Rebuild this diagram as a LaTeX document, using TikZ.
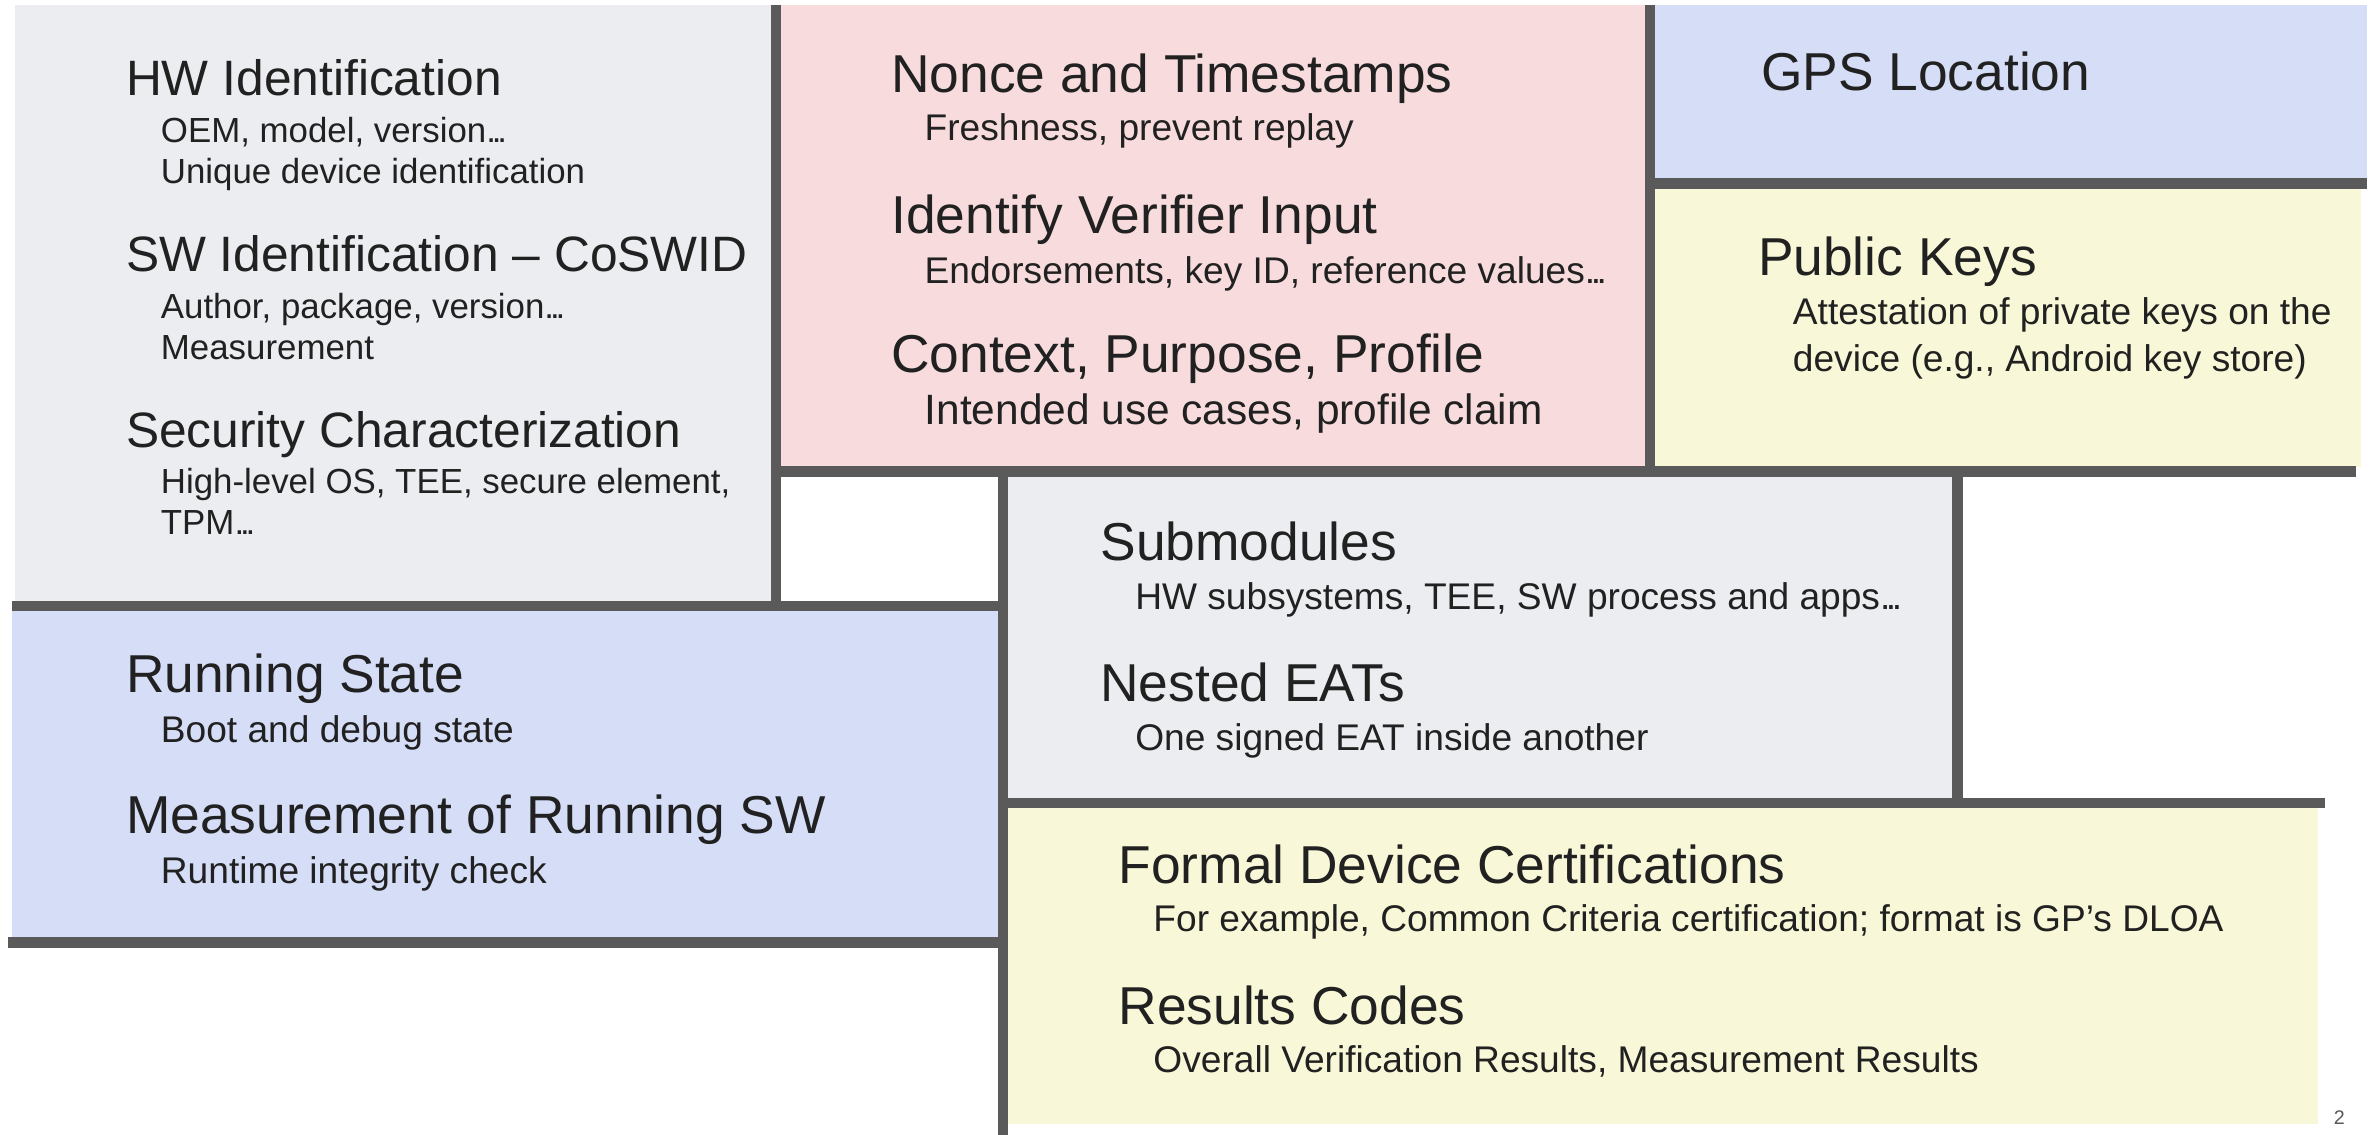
\documentclass[tikz,border=0pt]{standalone}
\usepackage{fontspec}
\setmainfont{Liberation Sans}
\definecolor{boxgray}{HTML}{ECEDF1}
\definecolor{boxpink}{HTML}{F8DCDD}
\definecolor{boxblue}{HTML}{D5DDF7}
\definecolor{boxyellow}{HTML}{F8F8D8}
\definecolor{rulecol}{HTML}{5A5A5A}
\definecolor{txt}{HTML}{212121}
\newcommand{\tightdots}{.\kern-0.12em.\kern-0.12em.}
\begin{document}
\begin{tikzpicture}[x=1pt,y=-1pt,
  ttl/.style={anchor=base west, inner sep=0pt, text=txt, font=\fontsize{35.2}{40}\selectfont},
  ttla/.style={anchor=base west, inner sep=0pt, text=txt, font=\fontsize{32.8}{40}\selectfont},
  sub/.style={anchor=base west, inner sep=0pt, text=txt, font=\fontsize{24.5}{28}\selectfont},
  suba/.style={anchor=base west, inner sep=0pt, text=txt, font=\fontsize{23}{28}\selectfont},
  subb/.style={anchor=base west, inner sep=0pt, text=txt, font=\fontsize{28}{32}\selectfont},
  rulel/.style={draw=rulecol, line width=7pt, line cap=butt}]
\useasboundingbox (0,0) rectangle (1568,749);
% boxes
\fill[boxgray]   (10,3)    rectangle (509,397);
\fill[boxpink]   (515,3)   rectangle (1086,308);
\fill[boxblue]   (1092,3)  rectangle (1562,118);
\fill[boxyellow] (1092,124) rectangle (1558,308);
\fill[boxgray]   (665,314) rectangle (1289,527);
\fill[boxblue]   (8,403)   rectangle (659,619);
\fill[boxyellow] (665,533) rectangle (1530,742);
% rules
\draw[rulel] (512,3) -- (512,400);
\draw[rulel] (8,400) -- (662,400);
\draw[rulel] (1089,3) -- (1089,311);
\draw[rulel] (512,311) -- (1555,311);
\draw[rulel] (1089,121) -- (1562,121);
\draw[rulel] (662,311) -- (662,749);
\draw[rulel] (1292,311) -- (1292,530);
\draw[rulel] (662,530) -- (1534,530);
\draw[rulel] (5,622) -- (662,622);
% box 1
\node[ttla] (hw)   at (83,63)  {HW Identification};
\node[suba] (hw1)  at (106,94) {OEM, model, version\tightdots};
\node[suba] (hw2)  at (106,121) {Unique device identification};
\node[ttla] (sw)   at (83,179) {SW Identification – CoSWID};
\node[suba] (sw1)  at (106,210) {Author, package, version\tightdots};
\node[suba] (sw2)  at (106,237) {Measurement};
\node[ttla] (sec)  at (83,295) {Security Characterization};
\node[suba] (sec1) at (106,326) {High-level OS, TEE, secure element,};
\node[suba] (sec2) at (106,353) {TPM\tightdots};
% box 2
\node[ttl] (non)  at (588,61)  {Nonce and Timestamps};
\node[sub] (non1) at (610,93)  {Freshness, prevent replay};
\node[ttl] (ver)  at (588,154) {Identify Verifier Input};
\node[sub] (ver1) at (610,187) {Endorsements, key ID, reference values\tightdots};
\node[ttl] (ctx)  at (588,246) {Context, Purpose, Profile};
\node[subb] (ctx1) at (610,280) {Intended use cases, profile claim};
% box 3, 4
\node[ttl] (gps)  at (1162,60) {GPS Location};
\node[ttl] (pk)   at (1160,182) {Public Keys};
\node[sub] (pk1)  at (1183,214) {Attestation of private keys on the};
\node[sub] (pk2)  at (1183,245) {device (e.g., Android key store)};
% box 5
\node[ttl] (smod)  at (726,370) {Submodules};
\node[sub] (smod1) at (749,402) {HW subsystems, TEE, SW process and apps\tightdots};
\node[ttl] (nest)  at (726,463) {Nested EATs};
\node[sub] (nest1) at (749,495) {One signed EAT inside another};
% box 6
\node[ttl] (run)  at (83,457) {Running State};
\node[sub] (run1) at (106,490) {Boot and debug state};
\node[ttl] (meas) at (83,550) {Measurement of Running SW};
\node[sub] (meas1) at (106,583) {Runtime integrity check};
% box 7
\node[ttl] (form)  at (738,583) {Formal Device Certifications};
\node[sub] (form1) at (761,615) {For example, Common Criteria certification; format is GP’s DLOA};
\node[ttl] (res)   at (738,676) {Results Codes};
\node[sub] (res1)  at (761,708) {Overall Verification Results, Measurement Results};
% page number
\node[anchor=base west, inner sep=0pt, text=rulecol, font=\fontsize{13}{15}\selectfont] (pg) at (1540,742) {2};
\end{tikzpicture}
\end{document}
